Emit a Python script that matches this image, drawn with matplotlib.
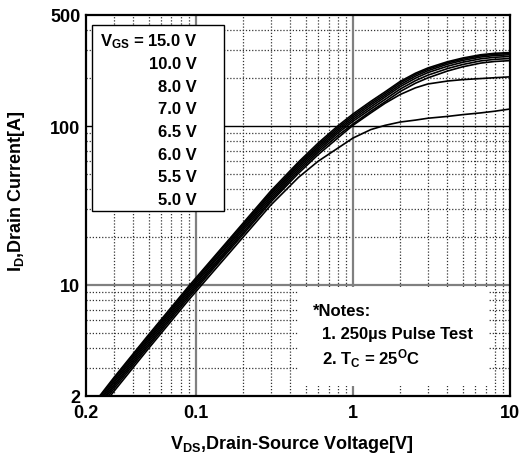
import matplotlib
matplotlib.use("Agg")
import matplotlib.pyplot as plt
from matplotlib.patches import Rectangle

plt.rcParams['font.family'] = ['Liberation Sans', 'DejaVu Sans']
plt.rcParams['font.weight'] = 'bold'
plt.rcParams['mathtext.fontset'] = 'custom'
plt.rcParams['mathtext.rm'] = 'Liberation Sans:bold'
plt.rcParams['mathtext.it'] = 'Liberation Sans:bold'
plt.rcParams['mathtext.bf'] = 'Liberation Sans:bold'
plt.rcParams['mathtext.sf'] = 'Liberation Sans:bold'
plt.rcParams['mathtext.default'] = 'rm'

# ---- data ----
vds = [0.02, 0.03, 0.05, 0.09, 0.15, 0.2, 0.3, 0.45, 0.6, 0.8, 1.0, 1.3, 1.6,
       2.0, 2.5, 3.0, 4.0, 5.0, 6.5, 8.0, 10.0]
id_15v = [1.55, 2.6, 4.85, 9.8, 17.6, 24.5, 39, 59.3, 78, 100, 119, 143, 164,
          191, 215, 232, 254, 268, 281, 287, 290]
id_10v = [1.51, 2.54, 4.73, 9.55, 17.2, 23.9, 38.0, 57.8, 76.0, 97.5, 116, 139.5, 160,
          187, 211, 228, 250, 264, 277, 283, 286]
id_8v = [1.47, 2.47, 4.61, 9.31, 16.7, 23.3, 37.1, 56.3, 74.1, 95, 113, 136, 156,
         182, 206, 223, 245, 259, 272, 278, 281]
id_7v = [1.43, 2.41, 4.49, 9.07, 16.3, 22.7, 36.1, 54.9, 72.2, 92.5, 110, 132, 152,
         177, 200, 217, 238, 252, 265, 271, 274]
id_6_5v = [1.40, 2.34, 4.37, 8.82, 15.8, 22.1, 35.1, 53.4, 70.2, 90, 107, 128, 147,
           171, 193, 209, 230, 244, 257, 263, 266]
id_6v = [1.36, 2.28, 4.24, 8.58, 15.4, 21.4, 34.1, 51.9, 68.2, 87, 103, 124, 142,
         165, 186, 201, 222, 236, 249, 255, 258]
id_5_5v = [1.32, 2.21, 4.12, 8.33, 15.0, 20.8, 33.2, 50.4, 66, 84, 101, 121, 139,
           158, 174, 184, 192, 196, 199, 201.5, 204]
id_5v = [1.27, 2.13, 3.98, 8.04, 14.4, 20.0, 31.8, 47.5, 60, 72.5, 84, 95, 101,
         106, 109, 112, 115, 118, 121, 124, 128]
curves = [id_15v, id_10v, id_8v, id_7v, id_6_5v, id_6v, id_5_5v, id_5v]

legend_labels = ['15.0 V', '10.0 V', '8.0 V', '7.0 V', '6.5 V', '6.0 V', '5.5 V', '5.0 V']

xticks = [0.02, 0.1, 1, 10]
xticklabels = ['0.2', '0.1', '1', '10']
yticks = [2, 10, 100, 500]
yticklabels = ['2', '10', '100', '500']

xminor = [0.03, 0.04, 0.05, 0.06, 0.07, 0.08, 0.09,
          0.2, 0.3, 0.4, 0.5, 0.6, 0.7, 0.8, 0.9,
          2, 3, 4, 5, 6, 7, 8, 9]
yminor = [3, 4, 5, 6, 7, 8, 9, 20, 30, 40, 50, 60, 70, 80, 90, 200, 300, 400]

# ---- figure ----
W, H = 523, 456
fig = plt.figure(figsize=(W / 100, H / 100), dpi=100)
L, R, T, B = 86, 510, 16, 397
ax = fig.add_axes([L / W, (H - B) / H, (R - L) / W, (B - T) / H])
ax.set_xscale('log')
ax.set_yscale('log')
ax.set_xlim(0.02, 10)
ax.set_ylim(2, 500)

for xv in xminor:
    ax.axvline(xv, color='#333333', lw=0.9, ls=(0, (1, 1.5)), zorder=1)
for yv in yminor:
    ax.axhline(yv, color='#333333', lw=0.9, ls=(0, (1, 1.5)), zorder=1)
for xv in [0.1, 1]:
    ax.axvline(xv, color='#808080', lw=1.6, zorder=1.2)
ax.axhline(10, color='#808080', lw=1.6, zorder=1.2)
ax.axhline(100, color='black', lw=1.0, zorder=1.2)

for ys in curves:
    ax.plot(vds, ys, color='black', lw=1.2, zorder=3, solid_capstyle='butt')

ax.set_xticks(xticks)
ax.set_xticklabels(xticklabels)
ax.set_yticks(yticks)
ax.set_yticklabels(yticklabels)
ax.xaxis.set_minor_locator(matplotlib.ticker.NullLocator())
ax.yaxis.set_minor_locator(matplotlib.ticker.NullLocator())
ax.tick_params(axis='both', which='both', length=0, labelsize=13)
ax.tick_params(axis='x', pad=6)
ax.tick_params(axis='y', pad=4)
for lab in ax.get_xticklabels() + ax.get_yticklabels():
    lab.set_fontweight('bold')
for sp in ax.spines.values():
    sp.set_linewidth(1.6)
    sp.set_color('black')
    sp.set_zorder(5)

def fx(px):
    return (px - L) / (R - L)

def fy(py):
    return (B - py) / (B - T)

# legend box
ax.add_patch(Rectangle((fx(92), fy(212)), fx(224) - fx(92), fy(26) - fy(212),
                       transform=ax.transAxes, facecolor='white', edgecolor='black',
                       lw=1.0, zorder=4))
rows = [42, 64.6, 87.3, 110, 132.6, 155.3, 178, 200.6]
for i, (lab, py) in enumerate(zip(legend_labels, rows)):
    s = r'$V_{GS}$ = ' + lab if i == 0 else lab
    ax.text(fx(197), fy(py), s, transform=ax.transAxes, ha='right', va='center',
            fontsize=12, fontweight='bold', zorder=6)

# notes box
ax.add_patch(Rectangle((fx(299), fy(387)), fx(489) - fx(299), fy(288) - fy(387),
                       transform=ax.transAxes, facecolor='white', edgecolor='none',
                       zorder=4))
ax.text(fx(313), fy(312), '*Notes:', transform=ax.transAxes, ha='left', va='center',
        fontsize=12, fontweight='bold', zorder=6)
ax.text(fx(322), fy(335), '1. 250\u00b5s Pulse Test', transform=ax.transAxes,
        ha='left', va='center', fontsize=12, fontweight='bold', zorder=6)
ax.text(fx(322), fy(359), r'2. $T_C$ = 25$^{O}$C', transform=ax.transAxes,
        ha='left', va='center', fontsize=12, fontweight='bold', zorder=6)

fig.text(292 / W, (H - 445) / H, r'$V_{DS}$,Drain-Source Voltage[V]', ha='center',
         va='center', fontsize=13, fontweight='bold')
fig.text(17 / W, (H - 191) / H, r'$I_D$,Drain Current[A]', ha='center', va='center',
         rotation=90, fontsize=13, fontweight='bold')

fig.savefig('out.png', dpi=100)
